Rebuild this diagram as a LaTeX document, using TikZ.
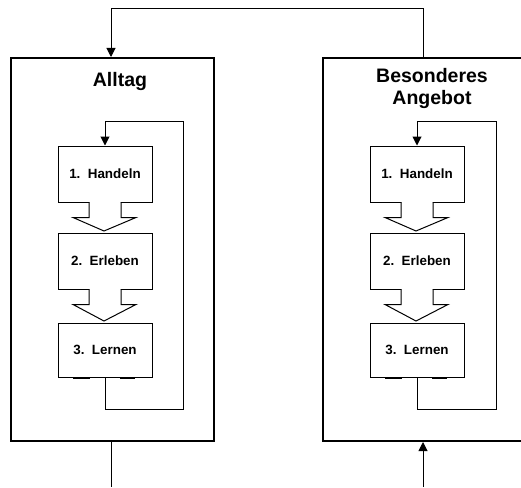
\documentclass[tikz,border=0pt]{standalone}
\usepackage{fontspec}
\setmainfont{Liberation Sans}
\usetikzlibrary{arrows.meta,calc}
\begin{document}
\begin{tikzpicture}[x=1pt,y=-1pt,
  outer/.style={draw,line width=2pt,minimum width=203pt,minimum height=383pt,inner sep=0pt},
  inner/.style={draw,line width=1pt,minimum width=94pt,inner sep=0pt,font=\fontsize{13.4}{15}\selectfont\bfseries,fill=white},
  title/.style={font=\fontsize{19.5}{22}\selectfont\bfseries,align=center},
  conn/.style={line width=1pt},
  tip/.style={-{Triangle[length=9pt,width=9pt]}},
  blk/.style={line width=1pt,fill=white}]
\useasboundingbox (0,0) rectangle (521,487);
\clip (0,0) rectangle (521,487);
% outer boxes
\node[outer] (L) at (112.5,249.5) {};
\node[outer] (R) at (424,249.5) {};
\node[title] (Lt) at (120,82) {Alltag};
\node[title] (Rt) at (432,89) {Besonderes\\Angebot};
% left inner
\node[inner,minimum height=56pt] (L1) at (105,174) {1.\ \ Handeln};
\node[inner,minimum height=56pt] (L2) at (105,261) {2.\ \ Erleben};
\node[inner,minimum height=54pt] (L3) at (105,350) {3.\ \ Lernen};
% right inner
\node[inner,minimum height=56pt] (R1) at (417,174) {1.\ \ Handeln};
\node[inner,minimum height=56pt] (R2) at (417,261) {2.\ \ Erleben};
\node[inner,minimum height=54pt] (R3) at (417,350) {3.\ \ Lernen};
% block arrows
\foreach \a/\b in {L1/L2,L2/L3,R1/R2,R2/R3}{
  \fill[white] ($(\a.south)+(-15.5,-2)$) -- ($(\a.south)+(-15.5,15)$) -- ($(\a.south)+(-32,15)$)
     -- ($(\b.north)+(-1,-1.5)$) -- ($(\a.south)+(31,15)$) -- ($(\a.south)+(15.5,15)$)
     -- ($(\a.south)+(15.5,-2)$) -- cycle;
  \draw[line width=1pt] ($(\a.south)+(-16,0)$) -- ++(0,15) -- ++(-16,0) -- ($(\b.north)+(-1,-1.5)$)
     -- ($(\a.south)+(31,15)$) -- ++(-15,0) -- ++(0,-15);
}
\foreach \a in {L3,R3}{
  \draw[line width=2pt] ($(\a.south)+(-32,0)$) -- ++(17,0);
  \draw[line width=2pt] ($(\a.south)+(15,0)$) -- ++(15,0);
}
% feedback loops
\draw[conn,tip] (L3.south) -- ++(0,32) -| ($(L1.north)+(78,-24)$) -| (L1.north);
\draw[conn,tip] (R3.south) -- ++(0,32) -| ($(R1.north)+(79,-24)$) -| (R1.north);
% top connector
\draw[conn,tip] ($(R.north)+(-1,0)$) -- ++(0,-48) -| ($(L.north)+(-1.5,0)$);
% bottom connectors
\coordinate (Lout) at (111,487);
\coordinate (Rin) at (423,487);
\draw[conn] ($(L.south)+(-1.5,0)$) -- (Lout);
\draw[conn,tip] (Rin) -- ($(R.south)+(-1,0)$);
\end{tikzpicture}
\end{document}
